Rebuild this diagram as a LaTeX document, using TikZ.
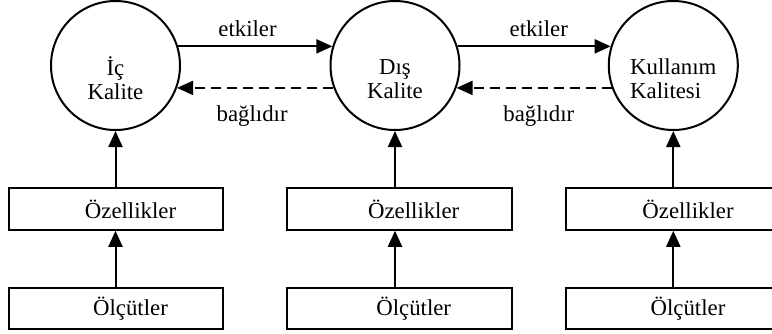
\documentclass[tikz,border=0pt]{standalone}
\usepackage{fontspec}
\setmainfont{Liberation Serif}
\usetikzlibrary{arrows.meta,shapes.geometric}
\begin{document}
\begin{tikzpicture}[x=0.5pt,y=-0.5pt, font=\fontsize{11.4}{12}\selectfont, line width=1pt,
 qual/.style={circle, draw, minimum size=64.5pt, inner sep=0pt},
 boxnode/.style={draw, minimum height=20.75pt, inner sep=0pt},
 arr/.style={-{Triangle[length=8pt,width=7pt]}},
 dasharr/.style={arr, dash pattern=on 5pt off 3pt},
 ctxt/.style={align=center, yshift=-8.2pt},
 ltxt/.style={align=left, yshift=-8.2pt},
 btxt/.style={xshift=7.25pt},
 lab/.style={anchor=base}]
\useasboundingbox (0,0) rectangle (772,333);
% quality circles
\node[qual, label={[ctxt]center:{\strut İç\\\strut Kalite}}] (c1) at (115.5,65.5) {};
\node[qual, label={[ctxt]center:{\strut Dış\\\strut Kalite}}] (c2) at (395,65.5) {};
\node[qual, label={[ltxt]center:{\strut Kullanım\\\strut Kalitesi}}] (c3) at (673.3,65.5) {};
% boxes
\node[boxnode, minimum width=107.3pt, label={[btxt]center:Özellikler}] (o1) at (116,209) {};
\node[boxnode, minimum width=107.3pt, label={[btxt]center:Ölçütler}] (k1) at (116,308.5) {};
\node[boxnode, minimum width=112.5pt, label={[btxt]center:Özellikler}] (o2) at (399.2,209) {};
\node[boxnode, minimum width=112.5pt, label={[btxt]center:Ölçütler}] (k2) at (399.2,308.5) {};
\node[boxnode, minimum width=107.5pt, label={[btxt]center:Özellikler}] (o3) at (673.5,209) {};
\node[boxnode, minimum width=107.5pt, label={[btxt]center:Ölçütler}] (k3) at (673.5,308.5) {};
% horizontal arrows
\draw[arr] (c1.17) -- node[lab, pos=.45, yshift=5pt] {etkiler} (c2.163);
\draw[arr] (c2.17) -- node[lab, pos=.53, yshift=5pt] {etkiler} (c3.163);
\draw[dasharr] (c2.-160) -- node[lab, pos=.52, yshift=-17pt] {bağlıdır} (c1.-20);
\draw[dasharr] (c3.-160) -- node[lab, pos=.47, yshift=-17pt] {bağlıdır} (c2.-20);
% vertical arrows
\draw[arr] (o1.north -| c1) -- (c1.south);
\draw[arr] (o2.north -| c2) -- (c2.south);
\draw[arr] (o3.north -| c3) -- (c3.south);
\draw[arr] (k1.north -| c1) -- (o1.south -| c1);
\draw[arr] (k2.north -| c2) -- (o2.south -| c2);
\draw[arr] (k3.north -| c3) -- (o3.south -| c3);
\end{tikzpicture}
\end{document}
